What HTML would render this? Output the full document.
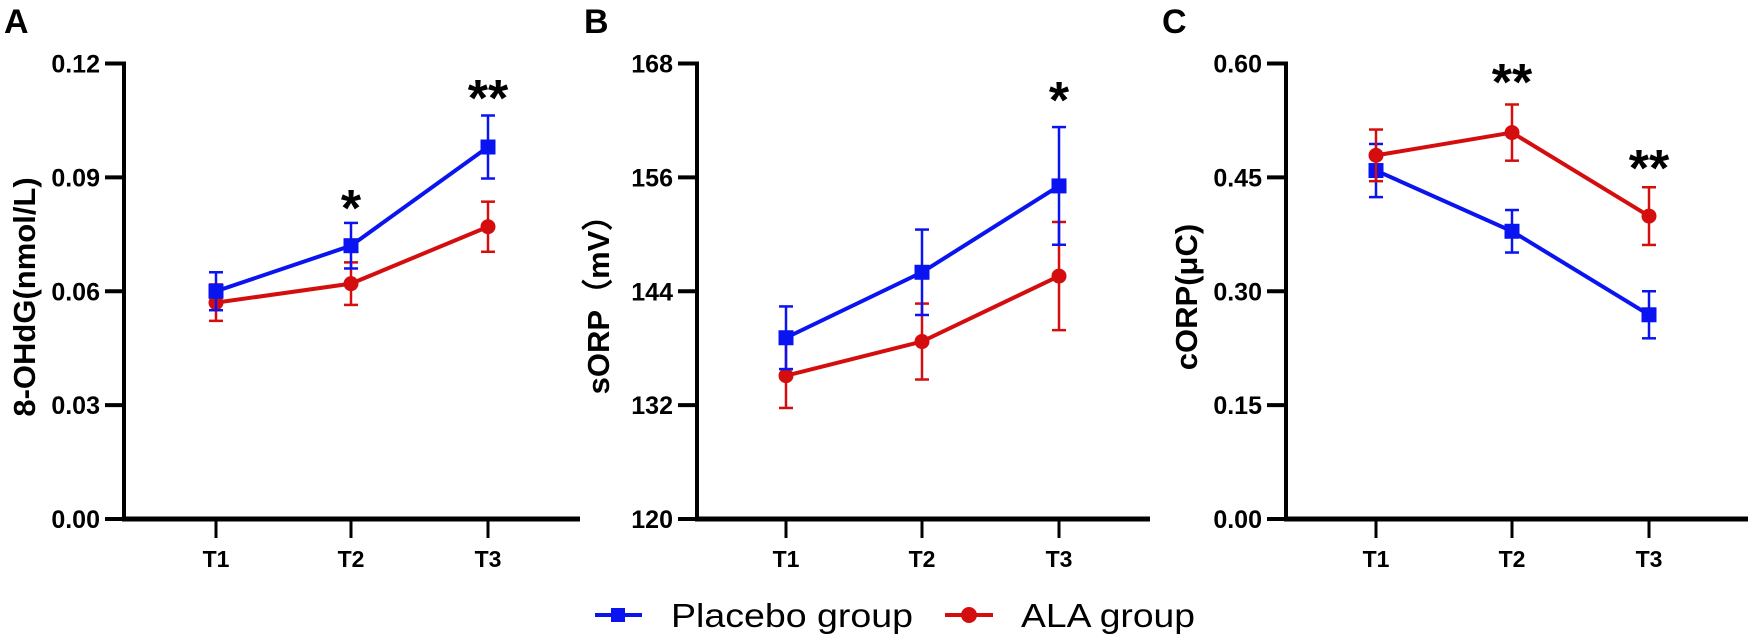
<!DOCTYPE html>
<html><head><meta charset="utf-8"><style>
html,body{margin:0;padding:0;background:#fff;}
svg{display:block;font-family:"Liberation Sans",Arial,sans-serif;}
</style></head><body>
<svg id="fig" width="1748" height="641" viewBox="0 0 1748 641">
<g>
  <g>
    <line x1="595" y1="615" x2="642" y2="615" stroke="#0a14f0" stroke-width="4"/>
    <rect x="611" y="608" width="14" height="14" fill="#0a14f0"/>
    <text x="671" y="627" font-size="33" textLength="242" lengthAdjust="spacingAndGlyphs">Placebo group</text>
  </g>
  <g>
    <line x1="945" y1="615" x2="993" y2="615" stroke="#d40e0e" stroke-width="4"/>
    <circle cx="969" cy="615" r="8" fill="#d40e0e"/>
    <text x="1021" y="627" font-size="33" textLength="174" lengthAdjust="spacingAndGlyphs">ALA group</text>
  </g>
</g>
</svg>
<script>
const timepoints = ["T1","T2","T3"];
const aTicks = ["0.00","0.03","0.06","0.09","0.12"];
const aPlacebo = [0.060, 0.072, 0.098];
const aPlaceboErr = [0.005, 0.006, 0.0083];
const aAla = [0.057, 0.062, 0.077];
const aAlaErr = [0.0048, 0.0056, 0.0066];
const aStars = ["", "*", "**"];
const bTicks = ["120","132","144","156","168"];
const bPlacebo = [139.1, 146.0, 155.1];
const bPlaceboErr = [3.3, 4.5, 6.2];
const bAla = [135.1, 138.7, 145.6];
const bAlaErr = [3.4, 4.0, 5.7];
const bStars = ["", "", "*"];
const cTicks = ["0.00","0.15","0.30","0.45","0.60"];
const cPlacebo = [0.459, 0.379, 0.269];
const cPlaceboErr = [0.035, 0.028, 0.031];
const cAla = [0.479, 0.509, 0.399];
const cAlaErr = [0.034, 0.037, 0.038];
const cStars = ["", "**", "**"];

const NS = "http://www.w3.org/2000/svg";
const svg = document.getElementById('fig');
function mk(tag, attrs, parent){ const e=document.createElementNS(NS,tag); for(const k in attrs) e.setAttribute(k,attrs[k]); (parent||svg).appendChild(e); return e; }
const BLUE="#0a14f0", RED="#d40e0e";

const panels = [
 {letter:"A", lx:4, ax:124, xs:[216,351,488], xend:580, title:"8-OHdG(nmol/L)", tx:24, ticks:aTicks, pl:aPlacebo, ple:aPlaceboErr, al:aAla, ale:aAlaErr, stars:aStars, starY:[0,200,90], name:"panel-a"},
 {letter:"B", lx:584, ax:697, xs:[786,922,1059], xend:1150, title:"sORP（mV）", tx:598, ticks:bTicks, pl:bPlacebo, ple:bPlaceboErr, al:bAla, ale:bAlaErr, stars:bStars, starY:[0,0,92], name:"panel-b"},
 {letter:"C", lx:1162, ax:1286, xs:[1376,1512,1649], xend:1748, title:"cORP(μC)", tx:1186, ticks:cTicks, pl:cPlacebo, ple:cPlaceboErr, al:cAla, ale:cAlaErr, stars:cStars, starY:[0,74,160], name:"panel-c"}
];
const Y0=519, Y1=63.5;
panels.forEach(p=>{
  const g = mk('g',{});
  
  
  const lo=parseFloat(p.ticks[0]), hi=parseFloat(p.ticks[p.ticks.length-1]);
  const y = v => Y0 - (v-lo)/(hi-lo)*(Y0-Y1);
  const x = i => p.xs[i];
  const L = mk('text',{x:p.lx,y:33,'font-size':34,'font-weight':'bold'},g); L.textContent=p.letter;
  
  
  const ya = mk('line',{x1:p.ax,y1:Y1-2,x2:p.ax,y2:Y0+2,stroke:'#000','stroke-width':4},g);
  
  
  const xa = mk('line',{x1:p.ax-2,y1:Y0,x2:p.xend,y2:Y0,stroke:'#000','stroke-width':5},g);
  
  
  p.ticks.forEach(t=>{
    const v=parseFloat(t), yy=y(v);
    mk('line',{x1:p.ax-19,y1:yy,x2:p.ax,y2:yy,stroke:'#000','stroke-width':4},g);
    const tt = mk('text',{x:p.ax-24,y:yy+9,'font-size':25,'font-weight':'bold','text-anchor':'end'},g);
    tt.textContent=t;
    
    
  });
  timepoints.forEach((t,i)=>{
    mk('line',{x1:x(i),y1:Y0,x2:x(i),y2:538,stroke:'#000','stroke-width':3},g);
    const tt = mk('text',{x:x(i),y:567,'font-size':23,'font-weight':'bold','text-anchor':'middle'},g);
    tt.textContent=t;
    
    
  });
  const yt = mk('text',{x:0,y:0,'font-size':31,'font-weight':'bold','text-anchor':'middle',transform:`translate(${p.tx+11},297) rotate(-90)`},g);
  yt.textContent=p.title;
  
  
  function series(vals, errs, color, shape, nm){
    const sg = mk('g',{},g);
    
    
    vals.forEach((v,i)=>{
      const e=errs[i];
      mk('line',{x1:x(i),y1:y(v+e),x2:x(i),y2:y(v-e),stroke:color,'stroke-width':2.5},sg);
      mk('line',{x1:x(i)-7,y1:y(v+e),x2:x(i)+7,y2:y(v+e),stroke:color,'stroke-width':2.5},sg);
      mk('line',{x1:x(i)-7,y1:y(v-e),x2:x(i)+7,y2:y(v-e),stroke:color,'stroke-width':2.5},sg);
    });
    mk('polyline',{points:vals.map((v,i)=>x(i)+','+y(v)).join(' '),fill:'none',stroke:color,'stroke-width':4},sg);
    vals.forEach((v,i)=>{
      let m;
      if(shape==='sq') m=mk('rect',{x:x(i)-7.5,y:y(v)-7.5,width:15,height:15,fill:color},sg);
      else m=mk('circle',{cx:x(i),cy:y(v),r:7.5,fill:color},sg);
      
      
    });
  }
  if(p.letter==='C'){ series(p.pl,p.ple,BLUE,'sq','placebo-series'); series(p.al,p.ale,RED,'ci','ala-series'); }
  else { series(p.al,p.ale,RED,'ci','ala-series'); series(p.pl,p.ple,BLUE,'sq','placebo-series'); }
  p.stars.forEach((s,i)=>{
    if(!s) return;
    const st = mk('text',{x:x(i),y:p.starY[i]+26,'font-size':52,'font-weight':'bold','text-anchor':'middle'},g);
    st.textContent=s;
    
    
  });
});
</script>
</body></html>
